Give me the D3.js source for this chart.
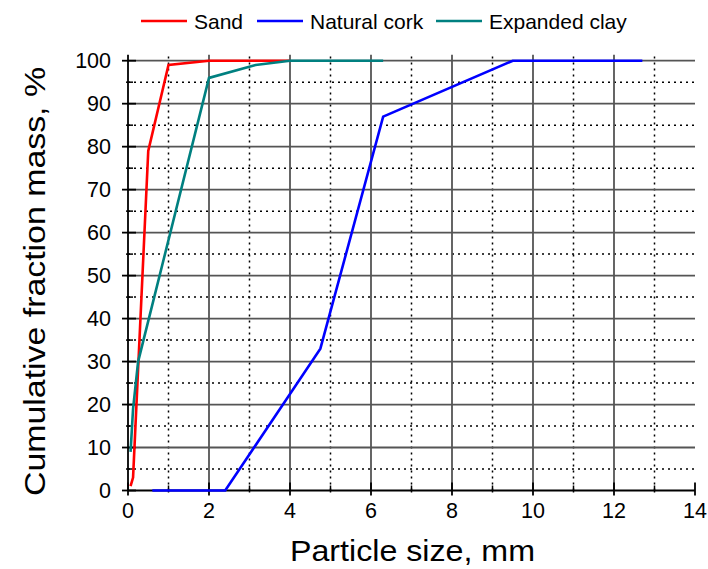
<!DOCTYPE html>
<html><head><meta charset="utf-8">
<script src="https://cdn.jsdelivr.net/npm/d3@7"></script>
<style>body{margin:0;background:#fff;} text{font-family:"Liberation Sans",Arial,sans-serif;fill:#000;}</style>
</head><body>
<svg id="c" width="708" height="569"></svg>
<script>
const seriesNames = ["Sand", "Natural cork", "Expanded clay"];
const seriesColors = ["#ff0000", "#0000ff", "#008080"];
const sandX = [0.063, 0.125, 0.5, 1, 2, 4];
const sandY = [1, 3, 79, 99, 100, 100];
const corkX = [0.6, 2.4, 4.75, 6.3, 9.5, 12.7];
const corkY = [0, 0, 33, 87, 100, 100];
const clayX = [0.063, 0.125, 0.25, 2, 3.15, 4, 6.3];
const clayY = [9, 19, 30, 96, 99, 100, 100];
const xTicks = [0, 2, 4, 6, 8, 10, 12, 14];
const yTicks = [0, 10, 20, 30, 40, 50, 60, 70, 80, 90, 100];
const xLabel = "Particle size, mm";
const yLabel = "Cumulative fraction mass, %";

const svg = d3.select("#c");
const x = d3.scaleLinear().domain([0, 14]).range([128, 695]);
const y = d3.scaleLinear().domain([0, 100]).range([490.5, 60.7]);
const plotTop = y(100) - 6;

const g = svg.append("g");
// grid: minor dotted
const xMinor = d3.range(1, 14, 2);
const yMinor = d3.range(5, 100, 10);
g.selectAll(".vmin").data(xMinor).join("line")
  .attr("x1", d => x(d)).attr("x2", d => x(d)).attr("y1", y(0)).attr("y2", plotTop)
  .attr("stroke", "#000").attr("stroke-width", 1.5).attr("stroke-dasharray", "2,4");
g.selectAll(".hmin").data(yMinor).join("line")
  .attr("x1", x(0)).attr("x2", x(14)).attr("y1", d => y(d)).attr("y2", d => y(d))
  .attr("stroke", "#000").attr("stroke-width", 1.5).attr("stroke-dasharray", "2,4");
// grid: major solid
g.selectAll(".vmaj").data(xTicks.filter(d => d > 0 && d < 14)).join("line")
  .attr("x1", d => x(d)).attr("x2", d => x(d)).attr("y1", y(0)).attr("y2", plotTop)
  .attr("stroke", "#555").attr("stroke-width", 1.8);
g.selectAll(".hmaj").data(yTicks.filter(d => d > 0)).join("line")
  .attr("x1", x(0)).attr("x2", x(14)).attr("y1", d => y(d)).attr("y2", d => y(d))
  .attr("stroke", "#555").attr("stroke-width", 1.8);

// axes lines
svg.append("line").attr("x1", x(0)).attr("x2", x(14)).attr("y1", y(0)).attr("y2", y(0)).attr("stroke", "#000").attr("stroke-width", 1.8);
svg.append("line").attr("x1", x(0)).attr("x2", x(0)).attr("y1", y(0)).attr("y2", plotTop).attr("stroke", "#000").attr("stroke-width", 1.8);

// x ticks
svg.selectAll(".xt").data(xTicks).join("line")
  .attr("x1", d => x(d)).attr("x2", d => x(d)).attr("y1", y(0) - 8).attr("y2", y(0) + 5)
  .attr("stroke", "#000").attr("stroke-width", 1.8);
svg.selectAll(".xtm").data(xMinor).join("line")
  .attr("x1", d => x(d)).attr("x2", d => x(d)).attr("y1", y(0) - 5).attr("y2", y(0) + 2)
  .attr("stroke", "#000").attr("stroke-width", 1.5);
svg.selectAll(".xl").data(xTicks).join("text")
  .attr("x", d => x(d)).attr("y", 518).attr("text-anchor", "middle")
  .attr("font-size", 21.5).text(d => d);
// y ticks
svg.selectAll(".yt").data(yTicks).join("line")
  .attr("x1", x(0) - 6).attr("x2", x(0) + 8).attr("y1", d => y(d)).attr("y2", d => y(d))
  .attr("stroke", "#000").attr("stroke-width", 1.8);
svg.selectAll(".ytm").data(yMinor).join("line")
  .attr("x1", x(0) - 2).attr("x2", x(0) + 5).attr("y1", d => y(d)).attr("y2", d => y(d))
  .attr("stroke", "#000").attr("stroke-width", 1.5);
svg.selectAll(".yl").data(yTicks).join("text")
  .attr("x", 111).attr("y", d => y(d) + 7.5).attr("text-anchor", "end")
  .attr("font-size", 21.5).text(d => d);

// titles
svg.append("text").attr("x", 290).attr("y", 561)
  .attr("font-size", 30).attr("textLength", 245).attr("lengthAdjust", "spacingAndGlyphs").text(xLabel);
svg.append("text").attr("transform", "translate(45,496) rotate(-90)")
  .attr("font-size", 30).attr("textLength", 429).attr("lengthAdjust", "spacingAndGlyphs").text(yLabel);

// lines
const data = [
  sandX.map((v, i) => [v, sandY[i]]),
  corkX.map((v, i) => [v, corkY[i]]),
  clayX.map((v, i) => [v, clayY[i]])
];
const line = d3.line().x(d => x(d[0])).y(d => y(d[1]));
svg.selectAll(".series").data(data).join("path")
  .attr("d", line).attr("fill", "none")
  .attr("stroke", (d, i) => seriesColors[i]).attr("stroke-width", 2.6)
  .attr("stroke-linejoin", "miter");

// legend
const legX = [141, 257, 436];
const leg = svg.selectAll(".leg").data(seriesNames).join("g")
  .attr("transform", (d, i) => `translate(${legX[i]},0)`);
leg.append("line").attr("x1", 0).attr("x2", 46).attr("y1", 21).attr("y2", 21)
  .attr("stroke", (d, i) => seriesColors[i]).attr("stroke-width", 2.6);
leg.append("text").attr("x", 53).attr("y", 29).attr("font-size", 21).text(d => d);
</script>
</body></html>
